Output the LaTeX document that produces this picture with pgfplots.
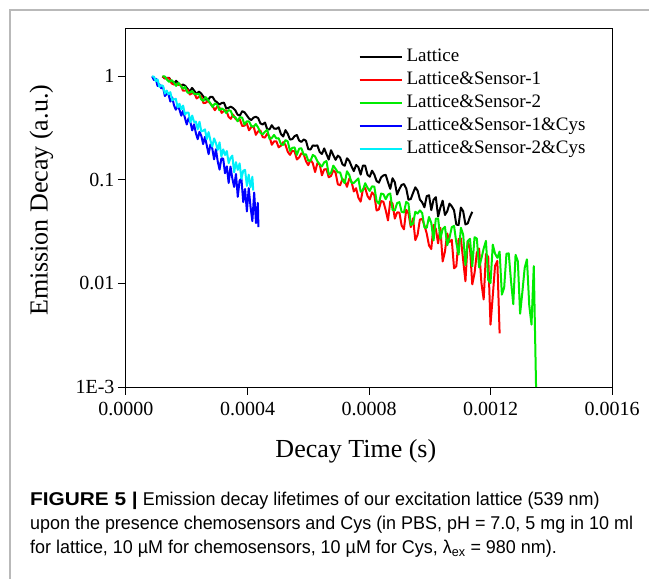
\documentclass[border=0pt]{standalone}
\usepackage{fontspec}
\usepackage{graphicx}
\setmainfont{Liberation Serif}
\newfontfamily\capfont[FakeStretch=0.97]{Liberation Sans}
\usepackage{pgfplots}
\pgfplotsset{compat=1.18}
\definecolor{myblack}{RGB}{0,0,0}
\definecolor{myred}{RGB}{255,0,0}
\definecolor{mygreen}{RGB}{0,235,0}
\definecolor{myblue}{RGB}{0,0,255}
\definecolor{mycyan}{RGB}{0,240,250}
\begin{document}
\begin{tikzpicture}[x=1pt,y=1pt]
\useasboundingbox (0,0) rectangle (649,579);
\draw[gray!55, line width=1.5pt] (10,0) -- (10,569) -- (649,569);
\begin{axis}[
  at={(126pt,192pt)}, anchor=south west,
  scale only axis, width=486pt, height=359pt,
  xmin=0, xmax=1600, ymode=log, ymin=1e-3, ymax=2.93,
  xtick={0,400,800,1200,1600},
  xticklabels={0.0000,0.0004,0.0008,0.0012,0.0016},
  ytick={0.001,0.01,0.1,1}, yticklabels={1E-3,0.01,0.1,1},
  scaled x ticks=false, xminorticks=false, yminorticks=false,
  tick align=outside, xtick pos=bottom, ytick pos=left,
  major tick length=8pt,
  axis line style={line width=1pt},
  every tick/.style={line width=1pt, black},
  ticklabel style={font=\fontsize{20}{24}\selectfont},
  xticklabel style={yshift=-4pt},
  label style={font=\fontsize{26}{30}\selectfont},
  xlabel={Decay Time (s)}, ylabel={Emission Decay (a.u.)},
  xlabel style={at={(axis description cs:0.473,-0.178)}, anchor=center},
  ylabel style={at={(axis description cs:-0.174,0.52)}, anchor=center},
  legend cell align=left,
  legend style={at={(axis description cs:0.478,0.945)}, anchor=north west,
    draw=none, fill=none, inner sep=0pt, row sep=4pt, column sep=3pt,
    font=\fontsize{19}{23}\selectfont,
    nodes={inner sep=1pt, text height=13pt, text depth=4pt}},
  legend image code/.code={\draw[#1, line width=2pt] (0pt,0pt) -- (42pt,0pt);},
  every axis plot/.append style={line width=2pt, line join=round},
]
\addplot[color=myblack] coordinates {
(120,1.000) (127.5,.9561) (135,.9673) (142.5,.9650) (150,.8797) (157.5,.8490) (165,.9062) (172.5,.8568)
(180,.8180) (187.5,.8328) (195,.8106) (202.5,.7585) (210,.7109) (217.5,.7732) (225,.7236) (232.5,.6723)
(240,.7129) (247.5,.6826) (255,.6364) (262.5,.5969) (270,.5932) (277.5,.6319) (285,.6330) (292.5,.5826)
(300,.5613) (307.5,.5330) (315,.5526) (322.5,.5569) (330,.4911) (337.5,.4960) (345,.5102) (352.5,.4938)
(360,.4687) (367.5,.4260) (375,.4180) (382.5,.4607) (390,.4502) (397.5,.4206) (405,.3918) (412.5,.3783)
(420,.4001) (427.5,.4071) (435,.3959) (442.5,.3512) (450,.3429) (457.5,.3579) (465,.3078) (472.5,.3078)
(480,.3375) (487.5,.3133) (495,.3114) (502.5,.3221) (510,.2777) (517.5,.2623) (525,.3024) (532.5,.2786)
(540,.2453) (547.5,.2476) (555,.2646) (562.5,.2716) (570,.2398) (577.5,.2326) (585,.2458) (592.5,.2387)
(600,.1984) (607.5,.1965) (615,.2154) (622.5,.2134) (630,.2156) (637.5,.1866) (645,.1779) (652.5,.2013)
(660,.1776) (667.5,.1572) (675,.1934) (682.5,.1732) (690,.1562) (697.5,.1717) (705,.1641) (712.5,.1415)
(720,.1368) (727.5,.1616) (735,.1531) (742.5,.1352) (750,.1215) (757.5,.1394) (765,.1328) (772.5,.1126)
(780,.1378) (787.5,.1370) (795,.1121) (802.5,.1073) (810,.1228) (817.5,.1127) (825,.0975) (832.5,.0941)
(840,.1059) (847.5,.1105) (855,.1120) (862.5,.0949) (870,.0820) (877.5,.1038) (885,.0949) (892.5,.0723)
(900,.0815) (907.5,.0895) (915,.0911) (922.5,.0828) (930,.0644) (937.5,.0653) (945,.0748) (952.5,.0848)
(960,.0788) (967.5,.0647) (975,.0607) (982.5,.0544) (990,.0696) (997.5,.0712) (1005,.0511) (1012.5,.0643)
(1020,.0681) (1027.5,.0443) (1035,.0541) (1042.5,.0630) (1050,.0458) (1057.5,.0497) (1065,.0590) (1072.5,.0556)
(1080,.0509) (1087.5,.0370) (1095,.0367) (1102.5,.0541) (1110,.0498) (1117.5,.0371) (1125,.0380) (1132.5,.0439)
(1140,.0492)
};
\addlegendentry{Lattice}
\addplot[color=myred] coordinates {
(120,1.000) (127.5,.9569) (135,.9630) (142.5,.9557) (150,.8559) (157.5,.8334) (165,.8440) (172.5,.8290)
(180,.8294) (187.5,.7270) (195,.7295) (202.5,.7462) (210,.6672) (217.5,.6869) (225,.6863) (232.5,.6118)
(240,.6342) (247.5,.6427) (255,.5514) (262.5,.5551) (270,.5816) (277.5,.5454) (285,.5173) (292.5,.4707)
(300,.5088) (307.5,.5014) (315,.4436) (322.5,.4642) (330,.4705) (337.5,.4071) (345,.3888) (352.5,.4279)
(360,.3908) (367.5,.3733) (375,.3824) (382.5,.3318) (390,.3338) (397.5,.3528) (405,.3012) (412.5,.3236)
(420,.3287) (427.5,.2726) (435,.2946) (442.5,.3002) (450,.2591) (457.5,.2563) (465,.2802) (472.5,.2611)
(480,.2183) (487.5,.2352) (495,.2361) (502.5,.2063) (510,.2138) (517.5,.2315) (525,.2175) (532.5,.1869)
(540,.1744) (547.5,.1913) (555,.1886) (562.5,.1575) (570,.1647) (577.5,.1809) (585,.1770) (592.5,.1518)
(600,.1387) (607.5,.1566) (615,.1448) (622.5,.1191) (630,.1447) (637.5,.1419) (645,.1107) (652.5,.1262)
(660,.1270) (667.5,.1060) (675,.1092) (682.5,.1239) (690,.1173) (697.5,.0906) (705,.0889) (712.5,.1020)
(720,.0981) (727.5,.0857) (735,.1029) (742.5,.0965) (750,.0773) (757.5,.0831) (765,.0674) (772.5,.0616)
(780,.0812) (787.5,.0833) (795,.0701) (802.5,.0648) (810,.0758) (817.5,.0714) (825,.0506) (832.5,.0519)
(840,.0625) (847.5,.0615) (855,.0510) (862.5,.0406) (870,.0622) (877.5,.0592) (885,.0423) (892.5,.0485)
(900,.0484) (907.5,.0363) (915,.0333) (922.5,.0515) (930,.0475) (937.5,.0350) (945,.0426) (952.5,.0262)
(960,.0295) (967.5,.0414) (975,.0420) (982.5,.0364) (990,.0304) (997.5,.0233) (1005,.0215) (1012.5,.0368)
(1020,.0336) (1027.5,.0244) (1035,.0344) (1042.5,.0163) (1050,.0203) (1057.5,.0304) (1065,.0252) (1072.5,.0264)
(1080,.0140) (1087.5,.0147) (1095,.0269) (1102.5,.0272) (1110,.0168) (1117.5,.0105) (1125,.0255) (1132.5,.0219)
(1140,.0098) (1147.5,.0126) (1155,.0198) (1162.5,.0217) (1170,.0102) (1177.5,.0070) (1185,.0192) (1192.5,.0181)
(1200,.0040) (1207.5,.0076) (1215,.0148) (1222.5,.0165) (1230,.0033)
};
\addlegendentry{Lattice\&Sensor-1}
\addplot[color=mygreen] coordinates {
(120,1.000) (127.5,.9970) (135,.9291) (142.5,.8830) (150,.9212) (157.5,.8769) (165,.8084) (172.5,.8646)
(180,.8102) (187.5,.7605) (195,.7907) (202.5,.6953) (210,.6965) (217.5,.7232) (225,.6753) (232.5,.6707)
(240,.6796) (247.5,.5994) (255,.5804) (262.5,.6297) (270,.5894) (277.5,.5507) (285,.5058) (292.5,.5479)
(300,.5354) (307.5,.4708) (315,.4907) (322.5,.4750) (330,.4416) (337.5,.4720) (345,.4635) (352.5,.4077)
(360,.4029) (367.5,.3683) (375,.4037) (382.5,.3991) (390,.3422) (397.5,.3681) (405,.3677) (412.5,.3310)
(420,.3257) (427.5,.3468) (435,.3209) (442.5,.2849) (450,.2754) (457.5,.2921) (465,.3049) (472.5,.2490)
(480,.2539) (487.5,.2717) (495,.2513) (502.5,.2526) (510,.2220) (517.5,.2171) (525,.2418) (532.5,.2356)
(540,.1906) (547.5,.2041) (555,.2058) (562.5,.1744) (570,.2004) (577.5,.2022) (585,.1748) (592.5,.1767)
(600,.1535) (607.5,.1528) (615,.1742) (622.5,.1685) (630,.1515) (637.5,.1412) (645,.1348) (652.5,.1478)
(660,.1520) (667.5,.1132) (675,.1169) (682.5,.1373) (690,.1279) (697.5,.1180) (705,.1180) (712.5,.0999)
(720,.0930) (727.5,.1212) (735,.1118) (742.5,.0938) (750,.0933) (757.5,.0984) (765,.1034) (772.5,.0770)
(780,.0796) (787.5,.0929) (795,.0841) (802.5,.0782) (810,.0866) (817.5,.0862) (825,.0625) (832.5,.0589)
(840,.0738) (847.5,.0728) (855,.0651) (862.5,.0721) (870,.0740) (877.5,.0513) (885,.0507) (892.5,.0597)
(900,.0610) (907.5,.0491) (915,.0485) (922.5,.0614) (930,.0589) (937.5,.0367) (945,.0377) (952.5,.0493)
(960,.0473) (967.5,.0507) (975,.0480) (982.5,.0347) (990,.0344) (997.5,.0439) (1005,.0384) (1012.5,.0260)
(1020,.0422) (1027.5,.0424) (1035,.0270) (1042.5,.0335) (1050,.0353) (1057.5,.0234) (1065,.0276) (1072.5,.0349)
(1080,.0360) (1087.5,.0248) (1095,.0190) (1102.5,.0345) (1110,.0297) (1117.5,.0151) (1125,.0257) (1132.5,.0270)
(1140,.0146) (1147.5,.0280) (1155,.0271) (1162.5,.0143) (1170,.0174) (1177.5,.0217) (1185,.0258) (1192.5,.0108)
(1200,.0101) (1207.5,.0237) (1215,.0194) (1222.5,.0177) (1230,.0203) (1237.5,.0078) (1245,.0091) (1252.5,.0194)
(1260,.0195) (1267.5,.0106) (1275,.0063) (1282.5,.0189) (1290,.0164) (1297.5,.0051) (1305,.0083) (1312.5,.0141)
(1320,.0171) (1327.5,.0062) (1335,.0040) (1342.5,.0147) (1350,.0010)
};
\addlegendentry{Lattice\&Sensor-2}
\addplot[color=myblue] coordinates {
(86,1.000) (92,.9224) (98,.9478) (104,.8066) (110,.8375) (116,.7671)
(122,.7882) (128,.6452) (134,.6798) (140,.6701) (146,.5711) (152,.6260)
(158,.5262) (164,.4762) (170,.5186) (176,.4777) (182,.4170) (188,.4662)
(194,.3969) (200,.3429) (206,.3953) (212,.3604) (218,.3007) (224,.3446)
(230,.2833) (236,.2473) (242,.2913) (248,.2660) (254,.2218) (260,.2606)
(266,.2146) (272,.1771) (278,.2200) (284,.2018) (290,.1580) (296,.1978)
(302,.1509) (308,.1257) (314,.1615) (320,.1606) (326,.1160) (332,.1350)
(338,.0933) (344,.1344) (350,.1036) (356,.0856) (362,.1140) (368,.0686)
(374,.0985) (380,.1029) (386,.0610) (392,.0817) (398,.0496) (404,.0832)
(410,.0549) (416,.0400) (422,.0755) (428,.0382) (434,.0600) (436,.0350)
};
\addlegendentry{Lattice\&Sensor-1\&Cys}
\addplot[color=mycyan] coordinates {
(86,1.000) (92,.9918) (98,.8982) (104,.9340) (110,.7917) (116,.8190)
(122,.8102) (128,.6806) (134,.7282) (140,.6700) (146,.7035) (152,.5878)
(158,.5992) (164,.6063) (170,.5008) (176,.5437) (182,.4811) (188,.5221)
(194,.4279) (200,.4464) (206,.4458) (212,.3597) (218,.4183) (224,.3620)
(230,.3657) (236,.3077) (242,.3644) (248,.2938) (254,.2984) (260,.3076)
(266,.2477) (272,.2898) (278,.2398) (284,.2097) (290,.2518) (296,.2269)
(302,.1948) (308,.2303) (314,.1684) (320,.1971) (326,.1740) (332,.1902)
(338,.1452) (344,.1630) (350,.1715) (356,.1184) (362,.1484) (368,.1250)
(374,.1443) (380,.1024) (386,.1228) (392,.1249) (398,.0875) (404,.1123)
(410,.0849) (416,.1073) (419,.0790)
};
\addlegendentry{Lattice\&Sensor-2\&Cys}
\end{axis}
\begin{scope}[every node/.style={anchor=base west, inner sep=0pt, font=\capfont\fontsize{18.5}{22}\selectfont}]
\node at (30,73) {\scalebox{1.16}[1]{\textbf{FIGURE 5 |}} Emission decay lifetimes of our excitation lattice (539 nm)};
\node at (30,49) {upon the presence chemosensors and Cys (in PBS, pH = 7.0, 5 mg in 10 ml};
\node at (30,25) {for lattice, 10 µM for chemosensors, 10 µM for Cys, λ\textsubscript{ex} = 980 nm).};
\end{scope}
\end{tikzpicture}
\end{document}
